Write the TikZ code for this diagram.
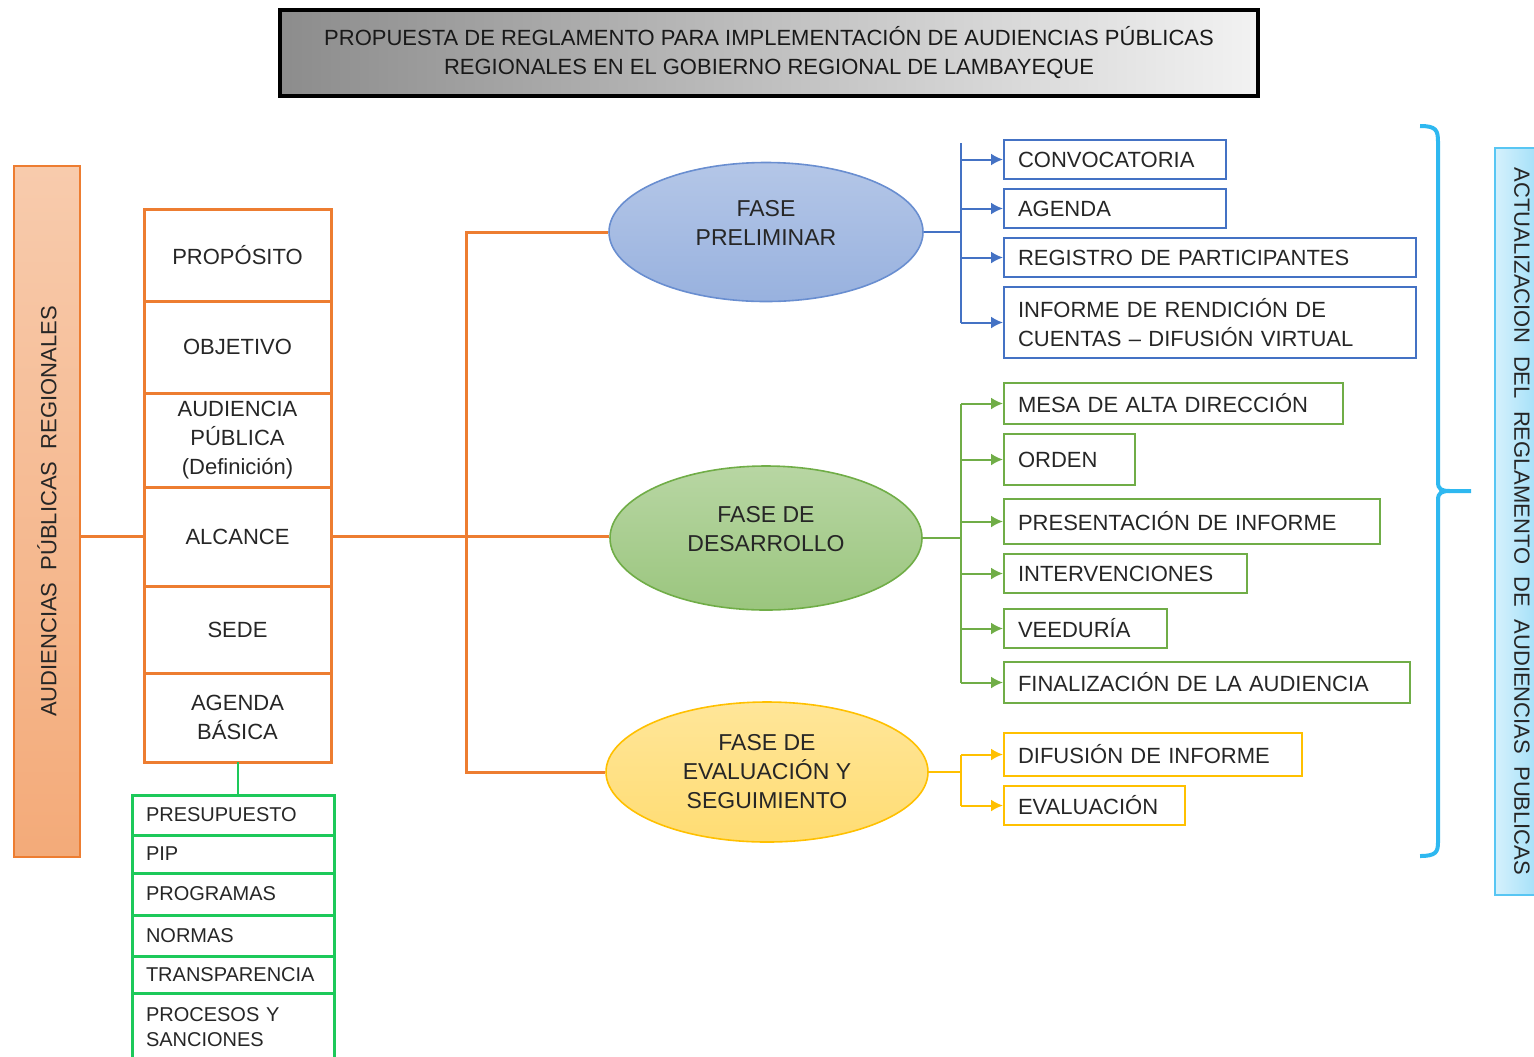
\documentclass[tikz,border=0pt]{standalone}
\usepackage{fontspec}
\setmainfont{Liberation Sans}
\usetikzlibrary{arrows.meta,positioning,shapes.geometric}

\definecolor{naranja}{HTML}{ED7D31}
\definecolor{azul}{HTML}{4472C4}
\definecolor{verde}{HTML}{70AD47}
\definecolor{verdeb}{HTML}{1DC95A}
\definecolor{amarillo}{HTML}{FFC000}
\definecolor{celeste}{HTML}{2EB8F0}

\begin{document}
\begin{tikzpicture}[x=0.5pt,y=-0.5pt,
  every node/.style={font=\fontsize{11}{14.5}\selectfont, text=black!85},
  obox/.style={draw=naranja, line width=1.5pt, outer sep=0pt, minimum width=93.5pt, inner sep=0pt, align=center},
  gbox/.style={draw=verdeb, line width=1.5pt, outer sep=0pt, text width=87pt, inner xsep=7pt, inner ysep=0pt, align=left, font=\fontsize{10}{12.5}\selectfont},
  rbox/.style={draw, line width=1pt, anchor=north west, inner xsep=7pt, inner ysep=0pt, align=left, minimum height=19.5pt},
  fase/.style={ellipse, draw, line width=0.8pt, align=center, inner sep=0pt, font=\fontsize{11.5}{14.5}\selectfont},
  oline/.style={naranja, line width=1.5pt},
  rama/.style={line width=1pt, -{Latex[length=6pt,width=6pt]}},
]
\useasboundingbox (0,0) rectangle (1534,1056);

%Title
\node [draw=black, line width=2pt, left color=black!45, right color=black!5, minimum width=489pt, minimum height=43pt, align=center, text=black!90] (titulo) at (769,53) {PROPUESTA DE REGLAMENTO PARA IMPLEMENTACIÓN DE AUDIENCIAS PÚBLICAS\\REGIONALES EN EL GOBIERNO REGIONAL DE LAMBAYEQUE};

%Left bar
\node [rotate=90, draw=naranja, line width=1pt, top color=naranja!40, bottom color=naranja!65, minimum width=345.5pt, minimum height=33pt, font=\fontsize{11}{12}\selectfont] (lbar) at (47,511.5) {AUDIENCIAS\ \ PÚBLICAS\ \ REGIONALES};

%Orange stack
\node [obox, minimum height=46pt] (prop) at (237.5,255) {PROPÓSITO};
\node [obox, minimum height=46pt, below=0pt of prop] (obj) {OBJETIVO};
\node [obox, minimum height=47pt, below=0pt of obj] (audi) {AUDIENCIA\\PÚBLICA\\(Definición)};
\node [obox, minimum height=49.5pt, below=0pt of audi] (alcance) {ALCANCE};
\node [obox, minimum height=43.5pt, below=0pt of alcance] (sede) {SEDE};
\node [obox, minimum height=44.5pt, below=0pt of sede] (abasica) {AGENDA\\BÁSICA};

%Green list
\node [gbox, anchor=north west, minimum height=20pt] (presup) at (132,795) {PRESUPUESTO};
\node [gbox, minimum height=19pt, below=0pt of presup] (pip) {PIP};
\node [gbox, minimum height=21pt, below=0pt of pip] (progr) {PROGRAMAS};
\node [gbox, minimum height=20.5pt, below=0pt of progr] (normas) {NORMAS};
\node [gbox, minimum height=18.5pt, below=0pt of normas] (transp) {TRANSPARENCIA};
\node [gbox, minimum height=34pt, below=0pt of transp] (procesos) {PROCESOS Y\\SANCIONES};

%Phases
\node [fase, draw=azul!80!white, top color=azul!40, bottom color=azul!55, minimum width=157pt, minimum height=69.5pt, text depth=9pt] (prelim) at (766,232) {FASE\\PRELIMINAR};
\node [fase, draw=verde, top color=verde!50, bottom color=verde!70, minimum width=156pt, minimum height=72pt, text depth=9pt] (desarrollo) at (766,538) {FASE DE\\DESARROLLO};
\node [fase, draw=amarillo, top color=amarillo!40, bottom color=amarillo!55, minimum width=161pt, minimum height=70pt] (eval) at (767,772) {FASE DE\\EVALUACIÓN Y\\SEGUIMIENTO};

%Blue boxes
\node [rbox, draw=azul, text width=97pt] (conv) at (1003,139) {CONVOCATORIA};
\node [rbox, draw=azul, text width=97pt] (agendap) at (1003,188) {AGENDA};
\node [rbox, draw=azul, text width=192pt] (registro) at (1003,237) {REGISTRO DE PARTICIPANTES};
\node [rbox, draw=azul, text width=192pt, minimum height=35.5pt] (informe) at (1003,286) {INFORME DE RENDICIÓN DE\\CUENTAS – DIFUSIÓN VIRTUAL};

%Green boxes
\node [rbox, draw=verde, text width=155.5pt, minimum height=20.5pt] (mesa) at (1003,382) {MESA DE ALTA DIRECCIÓN};
\node [rbox, draw=verde, text width=51.5pt, minimum height=25.5pt] (orden) at (1003,433) {ORDEN};
\node [rbox, draw=verde, text width=174pt, minimum height=22.5pt] (present) at (1003,498) {PRESENTACIÓN DE INFORME};
\node [rbox, draw=verde, text width=107.5pt] (interv) at (1003,553) {INTERVENCIONES};
\node [rbox, draw=verde, text width=67.5pt] (veed) at (1003,608) {VEEDURÍA};
\node [rbox, draw=verde, text width=189pt, minimum height=20.5pt] (final) at (1003,661) {FINALIZACIÓN DE LA AUDIENCIA};

%Yellow boxes
\node [rbox, draw=amarillo, text width=135pt, minimum height=21.5pt] (difus) at (1003,732) {DIFUSIÓN DE INFORME};
\node [rbox, draw=amarillo, text width=76.5pt] (evalu) at (1003,785) {EVALUACIÓN};

%Right bar
\node [rotate=-90, draw=celeste!80, line width=1pt, left color=celeste!20, right color=celeste!50, minimum width=373.5pt, minimum height=27pt, font=\fontsize{11}{12}\selectfont] (rbar) at (1522,521.5) {ACTUALIZACION\ \ DEL\ \ REGLAMENTO\ \ DE\ \ AUDIENCIAS\ \ PUBLICAS};

% Orange connectors
\coordinate (ot) at (466,0);
\draw [oline] (lbar.south |- alcance.west) -- (alcance.west);
\draw [oline] (alcance.east) -- (alcance.east -| desarrollo.west);
\draw [oline] (prelim.west) -- (prelim.west -| ot) -- (eval.west -| ot) -- (eval.west);
\draw [verdeb, line width=1pt] (abasica.south) -- (abasica.south |- presup.north);

% Blue branch
\coordinate (bt) at (961,143);
\draw [azul, line width=1pt] (prelim.east) -- (prelim.east -| bt);
\draw [azul, line width=1pt] (bt) -- (bt |- informe.west);
\foreach \n in {conv,agendap,registro,informe}
  \draw [rama, azul] (bt |- \n.west) -- (\n.west);

% Green branch
\coordinate (dt) at (961,0);
\draw [verde, line width=1pt] (desarrollo.east) -- (desarrollo.east -| dt);
\draw [verde, line width=1pt] (dt |- mesa.west) -- (dt |- final.west);
\foreach \n in {mesa,orden,present,interv,veed,final}
  \draw [rama, verde] (dt |- \n.west) -- (\n.west);

% Yellow branch
\coordinate (et) at (961,0);
\draw [amarillo, line width=1pt] (eval.east) -- (eval.east -| et);
\draw [amarillo, line width=1pt] (et |- difus.west) -- (et |- evalu.west);
\foreach \n in {difus,evalu}
  \draw [rama, amarillo] (et |- \n.west) -- (\n.west);

%Brace
\draw [celeste, line width=2pt] (1420,126) .. controls (1436,126) and (1438,130) .. (1438,142) -- (1438,482)
  .. controls (1438,489) and (1441,491) .. (1450,491) -- (1471,491);
\draw [celeste, line width=2pt] (1450,491) .. controls (1441,491) and (1438,493) .. (1438,500) -- (1438,842)
  .. controls (1438,852) and (1436,856) .. (1420,856);

\end{tikzpicture}
\end{document}
